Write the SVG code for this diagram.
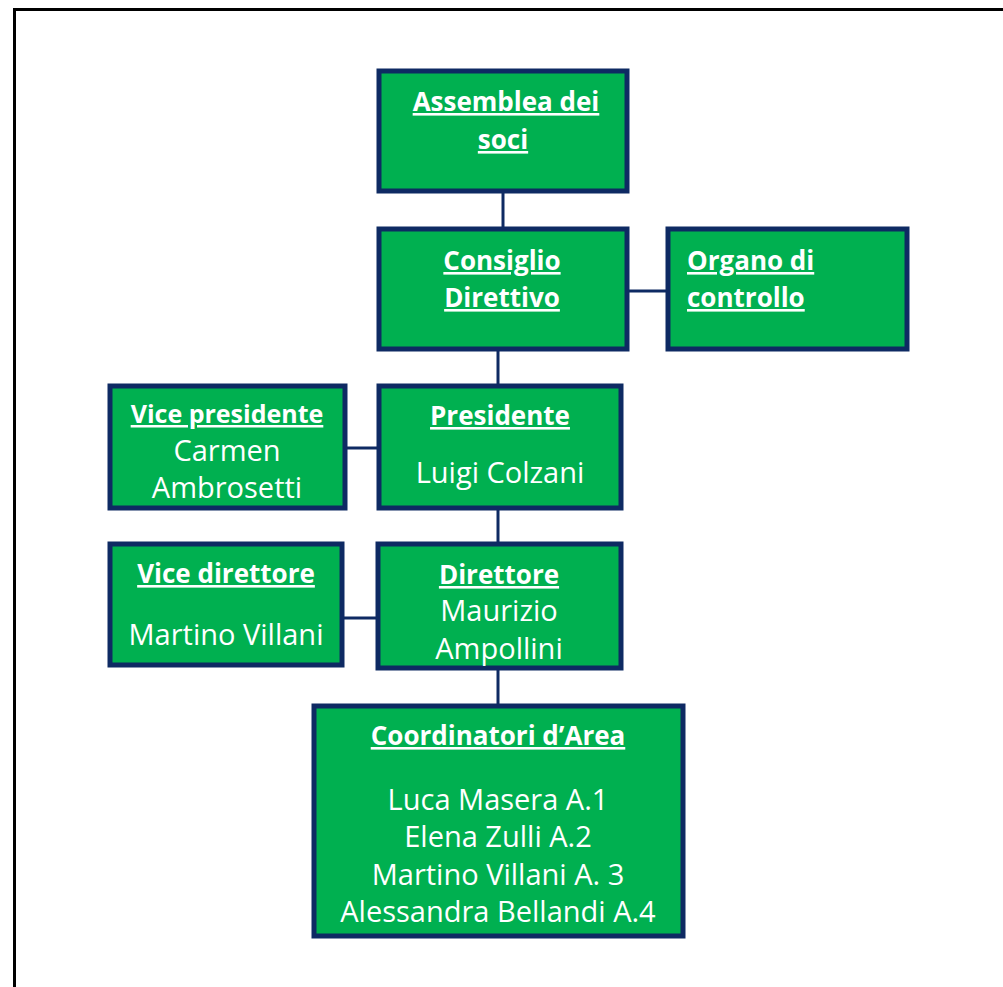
<svg xmlns="http://www.w3.org/2000/svg" width="1003" height="987" viewBox="0 0 1003 987">
<style>
.box{fill:#00b050;stroke:#0e2a63;stroke-width:5}
.ln{stroke:#0e2a63;stroke-width:3;fill:none}
text{font-family:"Open Sans","Liberation Sans",sans-serif;fill:#fff;font-size:29px}
.h{font-weight:bold;text-decoration:underline;font-size:26px}
.c{text-anchor:middle}
</style>
<rect x="14.5" y="9.5" width="1000" height="1000" fill="#fff" stroke="#000" stroke-width="3"/>
<g id="connectors">
<line class="ln" x1="503" y1="192" x2="503" y2="228"/>
<line class="ln" x1="628" y1="291" x2="667" y2="291"/>
<line class="ln" x1="498" y1="350" x2="498" y2="385"/>
<line class="ln" x1="346" y1="448" x2="378" y2="448"/>
<line class="ln" x1="498" y1="509" x2="498" y2="543"/>
<line class="ln" x1="343" y1="618" x2="377" y2="618"/>
<line class="ln" x1="498" y1="669" x2="498" y2="705"/>
</g>
<g id="assemblea">
<rect class="box" x="379" y="71" width="248" height="120"/>
<text class="h c" x="506" y="111">Assemblea dei</text>
<text class="h c" x="503" y="149">soci</text>
</g>
<g id="consiglio">
<rect class="box" x="379" y="229" width="248" height="120"/>
<text class="h c" x="502" y="270">Consiglio</text>
<text class="h c" x="502" y="307">Direttivo</text>
</g>
<g id="organo">
<rect class="box" x="668" y="229" width="239" height="120"/>
<text class="h" x="687" y="270">Organo di</text>
<text class="h" x="687" y="307">controllo</text>
</g>
<g id="vicepresidente">
<rect class="box" x="110" y="386" width="235" height="122"/>
<text class="h c" x="227" y="423" style="font-size:25px">Vice presidente</text>
<text class="c" x="227" y="461">Carmen</text>
<text class="c" x="227" y="498">Ambrosetti</text>
</g>
<g id="presidente">
<rect class="box" x="379" y="386" width="242" height="122"/>
<text class="h c" x="500" y="425">Presidente</text>
<text class="c" x="500" y="483">Luigi Colzani</text>
</g>
<g id="vicedirettore">
<rect class="box" x="110" y="544" width="232" height="121"/>
<text class="h c" x="226" y="583">Vice direttore</text>
<text class="c" x="226" y="645">Martino Villani</text>
</g>
<g id="direttore">
<rect class="box" x="378" y="544" width="243" height="124"/>
<text class="h c" x="499" y="584">Direttore</text>
<text class="c" x="499" y="621">Maurizio</text>
<text class="c" x="499" y="659">Ampollini</text>
</g>
<g id="coordinatori">
<rect class="box" x="314" y="706" width="369" height="230"/>
<text class="h c" x="498" y="745">Coordinatori d’Area</text>
<text class="c" x="498" y="810">Luca Masera A.1</text>
<text class="c" x="498" y="847">Elena Zulli A.2</text>
<text class="c" x="498" y="885">Martino Villani A. 3</text>
<text class="c" x="498" y="922">Alessandra Bellandi A.4</text>
</g>
</svg>
